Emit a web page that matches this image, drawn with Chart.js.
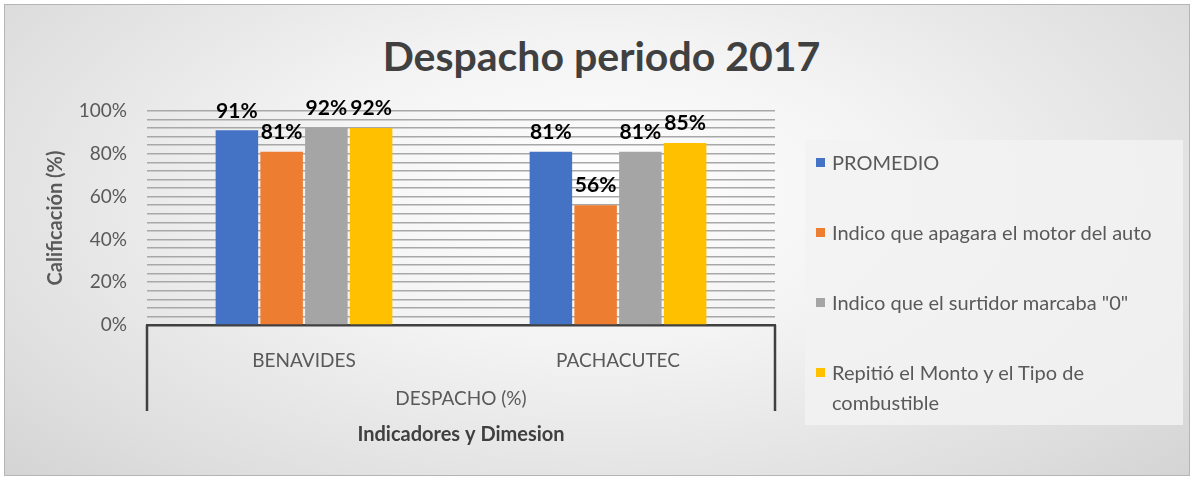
<!DOCTYPE html>
<html>
<head>
<meta charset="utf-8">
<script src="https://cdn.jsdelivr.net/npm/chart.js@4.4.1/dist/chart.umd.min.js"></script>
<style>
  html, body { margin: 0; padding: 0; background: #ffffff; }
  #frame {
    position: absolute; left: 4px; top: 4px; width: 1184px; height: 470px;
    border: 1px solid #b5b5b5;
    background: radial-gradient(ellipse 75% 95% at 50% 40%, #ffffff 0%, #f3f3f3 35%, #dedede 75%, #cfcfcf 100%);
  }
  #wrap { position: absolute; left: 0; top: 0; width: 1195px; height: 479px; }
  #title {
    position: absolute; left: 4px; top: 31px; width: 1195px; text-align: center;
    font-family: Lato, "Open Sans", sans-serif; font-weight: bold; font-size: 41px;
    line-height: 50px; color: #404040;
  }
  #legend {
    position: absolute; left: 805px; top: 140px; width: 378px; height: 285px;
    background: rgba(242, 242, 242, 0.85);
    font-family: Lato, "Open Sans", sans-serif; font-size: 20px; color: #595959;
  }
  .item { position: absolute; left: 11px; width: 355px; line-height: 30px; }
  .item span.box { position: absolute; left: 0; top: 11px; width: 9px; height: 9px; }
  .item span.txt { display: block; margin-left: 16px; }
</style>
</head>
<body>
<div id="frame"></div>
<div id="title">Despacho periodo 2017</div>
<div id="wrap"><canvas id="chart" width="1195" height="479"></canvas></div>
<div id="legend"></div>
<script>
const categories = ['BENAVIDES', 'PACHACUTEC'];
const groupLabel = 'DESPACHO (%)';
const seriesNames = [
  'PROMEDIO',
  'Indico que apagara el motor del auto',
  'Indico que el surtidor marcaba "0"',
  'Repitió el Monto y el Tipo de combustible'
];
const promedio = [91, 81];
const apagaMotor = [81, 56];
const surtidorCero = [92, 81];
const repitioMonto = [92, 85];
const colors = ['#4472C4', '#ED7D31', '#A5A5A5', '#FFC000'];
const legendTops = [7, 77, 147, 217];

const FONT = 'Lato, "Open Sans", sans-serif';

const barLabels = {
  id: 'barLabels',
  afterDatasetsDraw(chart) {
    const ctx = chart.ctx;
    ctx.save();
    ctx.font = 'bold 21px ' + FONT;
    ctx.fillStyle = '#000000';
    ctx.textAlign = 'center';
    ctx.textBaseline = 'bottom';
    chart.data.datasets.forEach((ds, i) => {
      chart.getDatasetMeta(i).data.forEach((bar, j) => {
        ctx.fillText(ds.data[j] + '%', bar.x, bar.y - 9);
      });
    });
    ctx.restore();
  }
};

const groupBox = {
  id: 'groupBox',
  afterDraw(chart) {
    const { ctx, chartArea } = chart;
    const x2 = chart.scales.x2;
    ctx.save();
    ctx.strokeStyle = '#404040';
    ctx.lineWidth = 2.5;
    ctx.beginPath();
    ctx.moveTo(chartArea.left, chartArea.bottom);
    ctx.lineTo(chartArea.left, x2.top + 40);
    ctx.moveTo(chartArea.right, chartArea.bottom);
    ctx.lineTo(chartArea.right, x2.top + 40);
    ctx.stroke();
    ctx.restore();
  }
};

const ctx = document.getElementById('chart').getContext('2d');
const chart = new Chart(ctx, {
  type: 'bar',
  data: {
    labels: categories,
    datasets: [
      { label: seriesNames[0], data: promedio, backgroundColor: colors[0] },
      { label: seriesNames[1], data: apagaMotor, backgroundColor: colors[1] },
      { label: seriesNames[2], data: surtidorCero, backgroundColor: colors[2] },
      { label: seriesNames[3], data: repitioMonto, backgroundColor: colors[3] }
    ]
  },
  options: {
    responsive: false,
    animation: false,
    layout: { padding: { left: 40, right: 420, top: 111, bottom: 28 } },
    datasets: { bar: { barPercentage: 0.95, categoryPercentage: 0.57 } },
    plugins: {
      legend: { display: false },
      tooltip: { enabled: false },
      title: { display: false }
    },
    scales: {
      y: {
        min: 0, max: 100,
        ticks: {
          stepSize: 4,
          autoSkip: false,
          padding: 20,
          color: '#595959',
          font: { family: FONT, size: 19 },
          callback: v => (v % 20 === 0 ? v + '%' : '')
        },
        grid: { color: '#a8a8a8', lineWidth: 1.5, drawTicks: false },
        border: { display: false },
        title: {
          display: true,
          text: 'Calificación (%)',
          color: '#595959',
          font: { family: FONT, size: 20, weight: 'bold' },
          padding: { bottom: 0 }
        },
        afterFit: s => { s.width = 107; }
      },
      x: {
        grid: { display: false },
        border: { display: true, color: '#404040', width: 2.5 },
        ticks: { color: '#595959', font: { family: FONT, size: 19 }, padding: 16 },
        afterFit: s => { s.height = 46; }
      },
      x2: {
        type: 'category',
        labels: [groupLabel],
        position: 'bottom',
        grid: { display: false },
        border: { display: false },
        ticks: { color: '#595959', font: { family: FONT, size: 19 }, padding: 8 },
        title: {
          display: true,
          text: 'Indicadores y Dimesion',
          color: '#404040',
          font: { family: FONT, size: 20, weight: 'bold' },
          padding: { top: 16 }
        },
        afterFit: s => { s.height = 80; }
      }
    }
  },
  plugins: [barLabels, groupBox]
});

const legendEl = document.getElementById('legend');
chart.data.datasets.forEach((ds, i) => {
  const it = document.createElement('div');
  it.className = 'item';
  it.style.top = legendTops[i] + 'px';
  it.innerHTML = '<span class="box" style="background:' + ds.backgroundColor + '"></span><span class="txt"></span>';
  it.querySelector('.txt').textContent = ds.label;
  legendEl.appendChild(it);
});
</script>
</body>
</html>
